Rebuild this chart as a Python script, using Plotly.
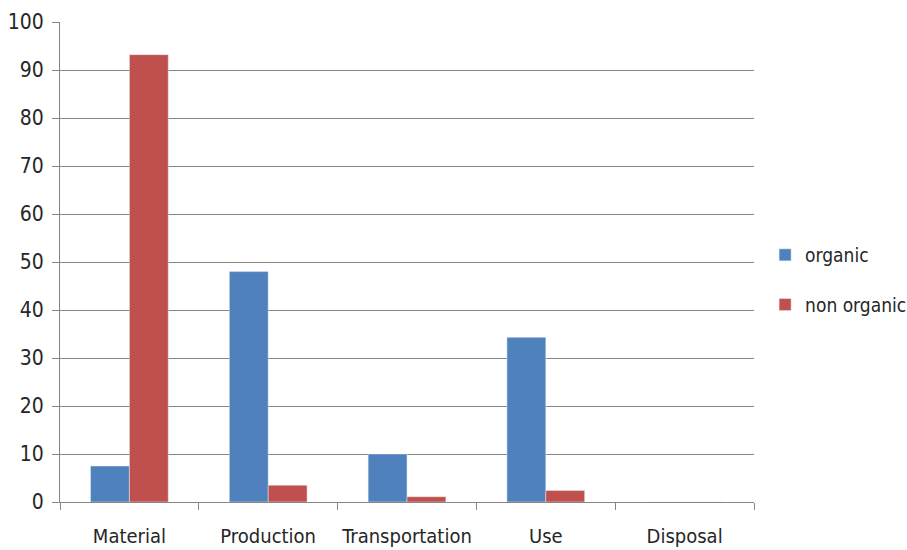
import plotly.graph_objects as go

categories = ["Material", "Production", "Transportation", "Use", "Disposal"]
organic = [7.5, 48, 10, 34.3, 0]
non_organic = [93.2, 3.5, 1.1, 2.4, 0]
y_ticks = [0, 10, 20, 30, 40, 50, 60, 70, 80, 90, 100]

FONT = "Liberation Sans Narrow, DejaVu Sans Condensed, Arial Narrow, sans-serif"

fig = go.Figure()
fig.add_trace(go.Bar(x=categories, y=organic, name="organic", marker_color="#4F81BD",
                     legendgroup="a"))
fig.add_trace(go.Bar(x=categories, y=non_organic, name="non organic", marker_color="#C0504D",
                     legendgroup="b"))

fig.update_layout(
    width=907, height=550,
    margin=dict(l=60, r=153, t=22, b=48, autoexpand=False),
    plot_bgcolor="white", paper_bgcolor="white",
    barmode="group", bargap=0.44, bargroupgap=0,
    font=dict(family=FONT, size=19, color="#262626"),
    legend=dict(x=1.016, y=0.4625, xanchor="left", yanchor="middle",
                tracegroupgap=22, font=dict(size=19),
                itemwidth=30),
    xaxis=dict(showline=True, linecolor="#868686", linewidth=1, tickangle=0,
               automargin=False, tickfont=dict(size=20), ticklabelstandoff=16,
               ticks="outside", tickson="boundaries", ticklen=7, tickcolor="#868686",
               showgrid=False),
    yaxis=dict(range=[0, 100], tickvals=y_ticks, showline=True, linecolor="#868686",
               linewidth=1, ticks="outside", ticklen=7, tickcolor="#868686",
               automargin=False, tickfont=dict(size=21), ticklabelstandoff=4,
               showgrid=True, gridcolor="#868686", gridwidth=1, zeroline=False),
)

fig.write_html("out.html")
